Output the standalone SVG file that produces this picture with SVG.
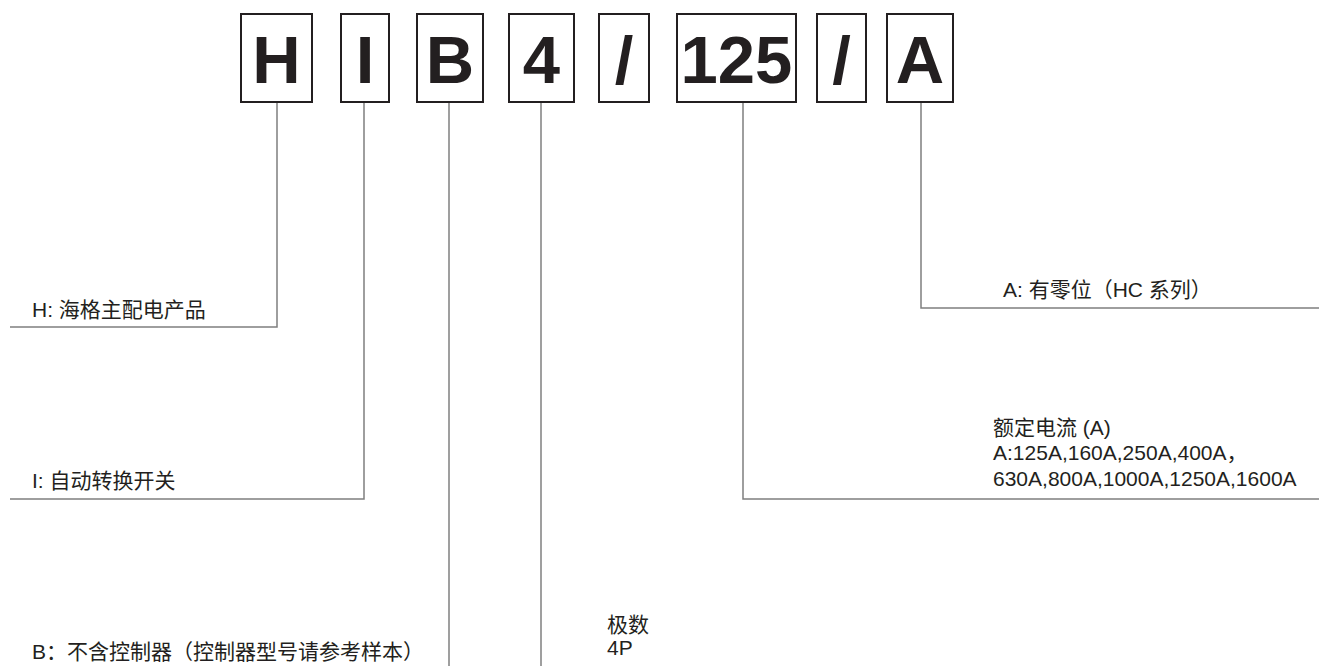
<svg xmlns="http://www.w3.org/2000/svg" width="1319" height="666" viewBox="0 0 1319 666">
<style>
.box{fill:#fff;stroke:#231f20;stroke-width:2}
.big{font-family:"Liberation Sans",Arial,sans-serif;font-weight:bold;font-size:67px;fill:#231f20;text-anchor:middle}
.lbl{font-family:"Liberation Sans","Noto Sans CJK SC",sans-serif;font-size:21px;fill:#231f20}
.ln{fill:none;stroke:#7f7f7f;stroke-width:1.5}
</style>
<rect width="1319" height="666" fill="#fff"/>
<g id="connectors">
<polyline class="ln" points="277,103 277,327 10,327"/>
<polyline class="ln" points="364,103 364,499 10,499"/>
<line class="ln" x1="449" y1="103" x2="449" y2="666"/>
<line class="ln" x1="541" y1="103" x2="541" y2="666"/>
<polyline class="ln" points="743,103 743,499 1319,499"/>
<polyline class="ln" points="921,103 921,308 1319,308"/>
</g>
<g id="box-H"><rect class="box" x="241" y="14" width="71" height="88"/><text class="big" x="276.5" y="83">H</text></g>
<g id="box-I"><rect class="box" x="341" y="14" width="48" height="88"/><text class="big" x="365" y="83">I</text></g>
<g id="box-B"><rect class="box" x="417" y="14" width="66" height="88"/><text class="big" x="450" y="83">B</text></g>
<g id="box-4"><rect class="box" x="509" y="14" width="65" height="88"/><text class="big" x="541.5" y="83">4</text></g>
<g id="box-slash1"><rect class="box" x="599" y="14" width="50" height="88"/><text class="big" x="624" y="83">/</text></g>
<g id="box-125"><rect class="box" x="677" y="14" width="119" height="88"/><text class="big" x="736.5" y="83">125</text></g>
<g id="box-slash2"><rect class="box" x="817" y="14" width="49" height="88"/><text class="big" x="841.5" y="83">/</text></g>
<g id="box-A"><rect class="box" x="887" y="14" width="66" height="88"/><text class="big" x="920" y="83">A</text></g>
<g id="label-H"><text class="lbl" x="32" y="317">H: 海格主配电产品</text></g>
<g id="label-I"><text class="lbl" x="32" y="488">I: 自动转换开关</text></g>
<g id="label-B"><text class="lbl" x="32" y="659">B：不含控制器（控制器型号请参考样本）</text></g>
<g id="label-4"><text class="lbl" x="607" y="632">极数</text><text class="lbl" x="607" y="655">4P</text></g>
<g id="label-125"><text class="lbl" x="993" y="435">额定电流 (A)</text><text class="lbl" x="993" y="460">A:125A,160A,250A,400A，</text><text class="lbl" x="993" y="486">630A,800A,1000A,1250A,1600A</text></g>
<g id="label-A"><text class="lbl" x="1003" y="297">A: 有零位（HC 系列）</text></g>
</svg>
